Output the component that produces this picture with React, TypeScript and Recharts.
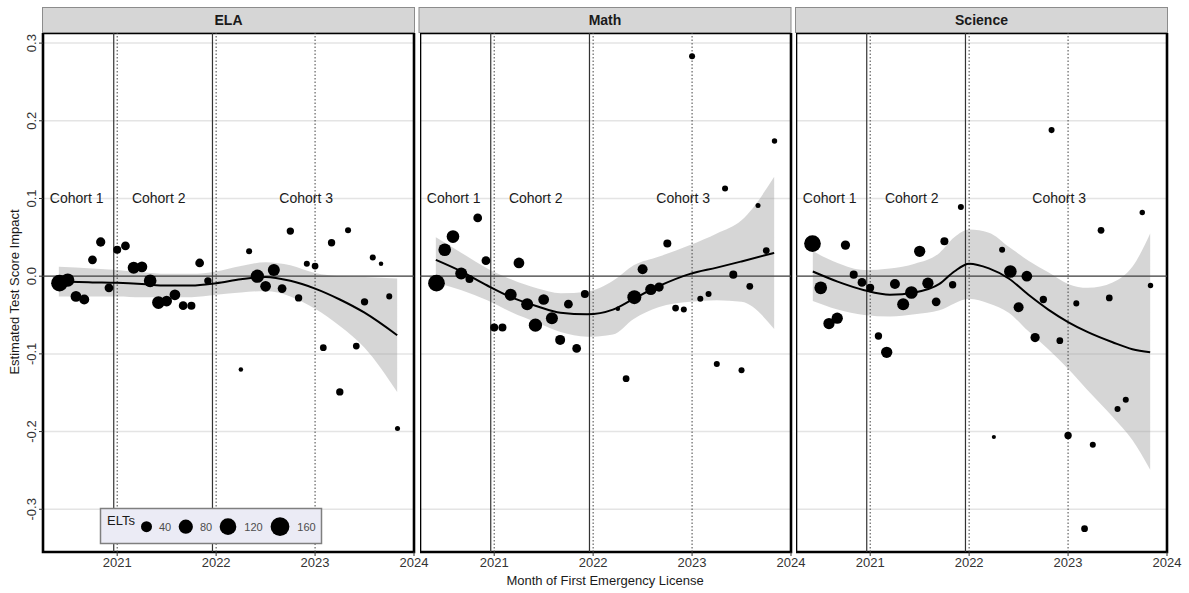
import React from 'react';
import {
  ComposedChart, Area, Line, Scatter, XAxis, YAxis, CartesianGrid, ReferenceLine, ReferenceArea,
} from 'recharts';

const FONT = '"Liberation Sans", Arial, Helvetica, sans-serif';

// ---- data ----
const subjects = ['ELA', 'Math', 'Science'];

const elaMonths = ['2020-06', '2020-07', '2020-08', '2020-09', '2020-10', '2020-11', '2020-12', '2021-01', '2021-02', '2021-03', '2021-04', '2021-05', '2021-06', '2021-07', '2021-08', '2021-09', '2021-10', '2021-11', '2021-12', '2022-04', '2022-05', '2022-06', '2022-07', '2022-08', '2022-09', '2022-10', '2022-11', '2022-12', '2023-01', '2023-02', '2023-03', '2023-04', '2023-05', '2023-06', '2023-07', '2023-08', '2023-09', '2023-10', '2023-11'];
const elaImpact = [-0.009, -0.005, -0.026, -0.030, 0.021, 0.044, -0.015, 0.034, 0.039, 0.011, 0.012, -0.006, -0.034, -0.032, -0.024, -0.038, -0.038, 0.017, -0.006, -0.120, 0.032, 0.000, -0.013, 0.008, -0.016, 0.058, -0.028, 0.016, 0.013, -0.092, 0.043, -0.149, 0.059, -0.090, -0.033, 0.024, 0.016, -0.026, -0.196];
const elaElts = [120, 67, 37, 30, 20, 24, 20, 15, 20, 51, 37, 59, 59, 37, 37, 20, 15, 20, 11, 1, 5, 67, 37, 51, 20, 11, 11, 5, 8, 8, 11, 11, 5, 8, 11, 5, 1, 5, 2];

const mathMonths = ['2020-06', '2020-07', '2020-08', '2020-09', '2020-10', '2020-11', '2020-12', '2021-01', '2021-02', '2021-03', '2021-04', '2021-05', '2021-06', '2021-07', '2021-08', '2021-09', '2021-10', '2021-11', '2021-12', '2022-04', '2022-05', '2022-06', '2022-07', '2022-08', '2022-09', '2022-10', '2022-11', '2022-12', '2023-01', '2023-02', '2023-03', '2023-04', '2023-05', '2023-06', '2023-07', '2023-08', '2023-09', '2023-10', '2023-11'];
const mathImpact = [-0.009, 0.034, 0.051, 0.0035, -0.0035, 0.075, 0.020, -0.066, -0.066, -0.024, 0.017, -0.036, -0.063, -0.030, -0.054, -0.082, -0.036, -0.093, -0.023, -0.042, -0.132, -0.027, 0.009, -0.017, -0.014, 0.042, -0.041, -0.043, 0.283, -0.029, -0.023, -0.113, 0.113, 0.002, -0.121, -0.013, 0.091, 0.033, 0.174];
const mathElts = [121, 59, 59, 51, 15, 20, 20, 15, 15, 51, 37, 51, 67, 37, 51, 30, 20, 20, 15, 1, 8, 77, 30, 43, 24, 15, 8, 5, 5, 5, 5, 5, 5, 15, 5, 8, 2, 8, 3];

const sciMonths = ['2020-06', '2020-07', '2020-08', '2020-09', '2020-10', '2020-11', '2020-12', '2021-01', '2021-02', '2021-03', '2021-04', '2021-05', '2021-06', '2021-07', '2021-08', '2021-09', '2021-10', '2021-11', '2021-12', '2022-04', '2022-05', '2022-06', '2022-07', '2022-08', '2022-09', '2022-10', '2022-11', '2022-12', '2023-01', '2023-02', '2023-03', '2023-04', '2023-05', '2023-06', '2023-07', '2023-08', '2023-10', '2023-11'];
const sciImpact = [0.042, -0.015, -0.061, -0.054, 0.040, 0.002, -0.008, -0.015, -0.077, -0.098, -0.010, -0.036, -0.021, 0.032, -0.009, -0.033, 0.045, -0.011, 0.089, -0.207, 0.034, 0.006, -0.040, 0.000, -0.079, -0.030, 0.188, -0.083, -0.205, -0.035, -0.325, -0.217, 0.059, -0.028, -0.171, -0.159, 0.082, -0.012];
const sciElts = [121, 59, 43, 43, 24, 15, 20, 15, 11, 43, 30, 51, 59, 43, 43, 20, 15, 11, 5, 0.5, 5, 59, 30, 37, 24, 11, 5, 8, 11, 5, 8, 5, 8, 8, 5, 5, 3, 3];

// loess fit and 95% band
const elaSmoothX = [2020.41, 2020.75, 2021.0, 2021.25, 2021.5, 2021.75, 2022.0, 2022.25, 2022.5, 2022.75, 2023.0, 2023.25, 2023.5, 2023.83];
const elaFit = [-0.007, -0.008, -0.0086, -0.010, -0.012, -0.012, -0.009, -0.004, -0.001, -0.006, -0.016, -0.030, -0.047, -0.076];
const elaLo = [-0.026, -0.026, -0.026, -0.027, -0.027, -0.027, -0.024, -0.021, -0.019, -0.026, -0.042, -0.064, -0.092, -0.149];
const elaHi = [0.012, 0.010, 0.008, 0.005, 0.003, 0.003, 0.006, 0.013, 0.018, 0.014, 0.004, 0.000, -0.001, -0.003];

const mathSmoothX = [2020.41, 2020.67, 2020.93, 2021.17, 2021.44, 2021.67, 2021.94, 2022.2, 2022.41, 2022.66, 2022.98, 2023.25, 2023.5, 2023.83];
const mathFit = [0.021, 0.006, -0.012, -0.027, -0.039, -0.047, -0.049, -0.043, -0.029, -0.013, 0.003, 0.011, 0.019, 0.030];
const mathLo = [-0.008, -0.018, -0.031, -0.046, -0.060, -0.072, -0.078, -0.075, -0.055, -0.040, -0.033, -0.031, -0.033, -0.068];
const mathHi = [0.050, 0.030, 0.010, -0.004, -0.016, -0.022, -0.020, -0.006, 0.014, 0.025, 0.040, 0.055, 0.072, 0.128];

const sciSmoothX = [2020.42, 2020.67, 2020.94, 2021.2, 2021.45, 2021.7, 2021.85, 2022.0, 2022.2, 2022.4, 2022.6, 2022.8, 2023.0, 2023.2, 2023.45, 2023.65, 2023.83];
const sciFit = [0.006, -0.007, -0.018, -0.024, -0.021, -0.010, 0.006, 0.016, 0.010, -0.003, -0.024, -0.043, -0.059, -0.072, -0.085, -0.094, -0.098];
const sciLo = [-0.032, -0.043, -0.050, -0.052, -0.049, -0.044, -0.035, -0.029, -0.035, -0.047, -0.071, -0.094, -0.119, -0.147, -0.181, -0.211, -0.249];
const sciHi = [0.032, 0.017, 0.008, 0.010, 0.016, 0.030, 0.050, 0.060, 0.056, 0.038, 0.020, 0.005, -0.010, -0.015, -0.008, 0.012, 0.055];

const xTicks = [2021, 2022, 2023, 2024];
const yTicks = [-0.3, -0.2, -0.1, 0, 0.1, 0.2, 0.3];
const yearLines = [2021, 2022, 2023];
const cohortBreaks = [2020.965, 2021.963];
const cohortLabels = ['Cohort 1', 'Cohort 2', 'Cohort 3'];
const cohortX = [2020.59, 2021.42, 2022.91];
const cohortY = 0.1;
const legendSizes = [40, 80, 120, 160];

const X_DOMAIN = [2020.25, 2024.0];
const Y_DOMAIN = [-0.355, 0.313];

const toYear = (m: string) => {
  const [y, mo] = m.split('-').map(Number);
  return y + (mo - 1) / 12;
};
const radius = (n: number) => (3.3 + 1.22 * Math.sqrt(n)) / 2;

const makePoints = (months: string[], vals: number[], elts: number[]) =>
  months.map((m, i) => ({ x: toYear(m), y: vals[i], n: elts[i] }));
const makeSmooth = (xs: number[], fit: number[], lo: number[], hi: number[]) =>
  xs.map((x, i) => ({ x, fit: fit[i], band: [lo[i], hi[i]] }));

const panels = [
  { points: makePoints(elaMonths, elaImpact, elaElts), smooth: makeSmooth(elaSmoothX, elaFit, elaLo, elaHi) },
  { points: makePoints(mathMonths, mathImpact, mathElts), smooth: makeSmooth(mathSmoothX, mathFit, mathLo, mathHi) },
  { points: makePoints(sciMonths, sciImpact, sciElts), smooth: makeSmooth(sciSmoothX, sciFit, sciLo, sciHi) },
];
const cohorts = cohortLabels.map((label, i) => ({ x: cohortX[i], y: cohortY, label }));

const PLOT_W = 371;
const PLOT_H = 519;
const PLOT_TOP = 33;
const PANEL_LEFT = [43, 419.5, 796];
const Y_AXIS_W = 43;
const RIGHT_PAD = 20; // room for the 2024 tick label

const YTick = (props: any) => {
  const { y, payload } = props;
  return (
    <text transform={`translate(36,${y}) rotate(-90)`} textAnchor="middle" fill="#333" fontSize={13} fontFamily={FONT}>
      {payload.value.toFixed(1)}
    </text>
  );
};

const Dot = (props: any) => (
  <circle cx={props.cx} cy={props.cy} r={radius(props.payload.n)} fill="#000" />
);

const CohortText = (props: any) => (
  <text x={props.cx} y={props.cy} dy="0.35em" textAnchor="middle" fill="#1a1a1a" fontSize={14} fontFamily={FONT}>
    {props.payload.label}
  </text>
);

function Panel({ idx }: { idx: number }) {
  const first = idx === 0;
  const p = panels[idx];
  const yw = first ? Y_AXIS_W : 0;
  return (
    <div style={{ position: 'absolute', left: PANEL_LEFT[idx] - yw, top: PLOT_TOP }}>
      <ComposedChart width={PLOT_W + yw + RIGHT_PAD} height={PLOT_H + 50} margin={{ top: 0, right: RIGHT_PAD, bottom: 0, left: 0 }}>
        <CartesianGrid vertical={false} horizontalValues={yTicks} stroke="#e4e4e4" strokeWidth={1.5} />
        <XAxis
          type="number" dataKey="x" domain={X_DOMAIN} ticks={xTicks} interval={0} allowDataOverflow
          axisLine={false} tickSize={4} tickLine={{ stroke: '#333' }} height={50}
          tick={{ fill: '#333', fontSize: 13, fontFamily: FONT }}
        />
        <YAxis
          type="number" domain={Y_DOMAIN} ticks={yTicks} allowDataOverflow hide={!first} width={Y_AXIS_W}
          axisLine={false} tickSize={4} tickLine={{ stroke: '#333' }} tick={<YTick />}
        />
        <Area data={p.smooth} dataKey="band" type="monotone" stroke="none" fill="#999999" fillOpacity={0.4} isAnimationActive={false} />
        <ReferenceLine y={0} stroke="#444" strokeWidth={1.3} />
        {cohortBreaks.map((b) => (
          <ReferenceLine key={`b${b}`} x={b} stroke="#333" strokeWidth={1.2} />
        ))}
        {yearLines.map((yr) => (
          <ReferenceLine key={`y${yr}`} x={yr} stroke="#444" strokeWidth={1} strokeDasharray="1.5 2" />
        ))}
        <Line data={p.smooth} dataKey="fit" type="monotone" stroke="#000" strokeWidth={2} dot={false} isAnimationActive={false} />
        <Scatter data={p.points} dataKey="y" shape={Dot} isAnimationActive={false} />
        <Scatter data={cohorts} dataKey="y" shape={CohortText} isAnimationActive={false} />
        <ReferenceArea
          x1={X_DOMAIN[0]} x2={X_DOMAIN[1]} y1={Y_DOMAIN[0]} y2={Y_DOMAIN[1]}
          fill="none" stroke="#000" strokeWidth={2.6} ifOverflow="visible"
        />
      </ComposedChart>
    </div>
  );
}

export default function App() {
  const legendCx = [146.5, 185.8, 228, 280];
  const legendTx = [165, 206, 253.5, 306.5];
  return (
    <div style={{ position: 'absolute', left: 0, top: 0, width: 1189, height: 593, background: '#fff', fontFamily: FONT }}>
      <svg width={1189} height={593} style={{ position: 'absolute', left: 0, top: 0 }}>
        {subjects.map((s, i) => (
          <g key={s}>
            <rect x={PANEL_LEFT[i] - 0.5} y={7.5} width={PLOT_W + 1} height={25} fill="#d6d6d6" stroke="#8c8c8c" strokeWidth={1} />
            <text x={PANEL_LEFT[i] + PLOT_W / 2} y={20} dy="0.35em" textAnchor="middle" fontSize={14} fontWeight="bold" fill="#1a1a1a">
              {s}
            </text>
          </g>
        ))}
        <text transform="translate(19,292) rotate(-90)" textAnchor="middle" fontSize={13} fill="#1a1a1a">
          Estimated Test Score Impact
        </text>
        <text x={605} y={585} textAnchor="middle" fontSize={13} fill="#1a1a1a">
          Month of First Emergency License
        </text>
      </svg>
      {panels.map((_, i) => (
        <Panel key={i} idx={i} />
      ))}
      <svg width={1189} height={593} style={{ position: 'absolute', left: 0, top: 0, pointerEvents: 'none' }}>
        <rect x={100.5} y={508.5} width={221} height={35} fill="#ebebf5" stroke="#7f7f7f" strokeWidth={1.5} />
        <text x={107} y={524.5} fontSize={13} fill="#1a1a1a">ELTs</text>
        {legendSizes.map((n, i) => (
          <g key={n}>
            <circle cx={legendCx[i]} cy={526.7} r={radius(n)} fill="#000" />
            <text x={legendTx[i]} y={527} dy="0.35em" textAnchor="middle" fontSize={11} fill="#4d4d4d">{n}</text>
          </g>
        ))}
      </svg>
    </div>
  );
}
